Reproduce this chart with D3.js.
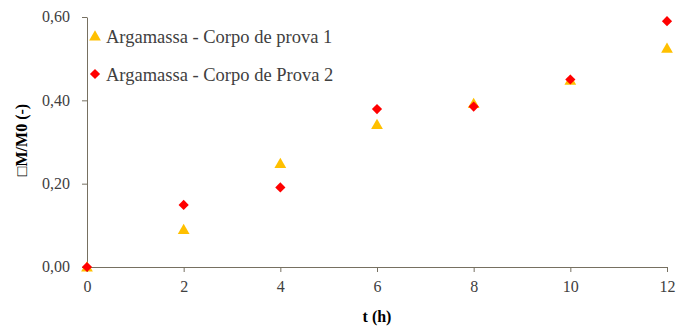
<!DOCTYPE html>
<html>
<head>
<meta charset="utf-8">
<script src="https://cdn.jsdelivr.net/npm/d3@7"></script>
<style>
  body { margin: 0; background: #fff; }
  svg { display: block; }
  text { font-family: "Liberation Serif", "Times New Roman", serif; }
</style>
</head>
<body>
<svg id="chart"></svg>
<script>
// data
const times = [0, 2, 4, 6, 8, 10, 12];
const cp1 = [0.0, 0.09, 0.248, 0.342, 0.392, 0.448, 0.525];
const cp2 = [0.0, 0.149, 0.191, 0.379, 0.385, 0.45, 0.59];
const seriesNames = ["Argamassa - Corpo de prova 1", "Argamassa - Corpo de Prova 2"];
const xTicks = [0, 2, 4, 6, 8, 10, 12];
const yTicks = [0, 0.2, 0.4, 0.6];

const config = {
  width: 684, height: 326,
  margin: { top: 17, right: 17, bottom: 59, left: 87 }
};
const innerW = config.width - config.margin.left - config.margin.right;
const innerH = config.height - config.margin.top - config.margin.bottom;
const axisColor = "#767061";
const labelColor = "#404040";

const svg = d3.select("#chart")
  .attr("width", config.width)
  .attr("height", config.height);

const chart = svg.append("g")
  .attr("transform", `translate(${config.margin.left},${config.margin.top})`);

const xScale = d3.scaleLinear().domain([0, 12]).range([0, innerW]);
const yScale = d3.scaleLinear().domain([0, 0.6]).range([innerH, 0]);

const fmt = d => d3.format(".2f")(d).replace(".", ",");

// x axis
const xAxisG = chart.append("g")
  .attr("transform", `translate(0,${innerH})`)
  .call(d3.axisBottom(xScale).tickValues(xTicks).tickSize(5).tickSizeOuter(0).tickPadding(9));

// y axis
const yAxisG = chart.append("g")
  .call(d3.axisLeft(yScale).tickValues(yTicks).tickFormat(fmt).tickSize(5).tickSizeOuter(0).tickPadding(12));

[xAxisG, yAxisG].forEach(g => {
  g.select(".domain").attr("stroke", axisColor);
  g.selectAll(".tick line").attr("stroke", axisColor);
  g.selectAll(".tick text")
    .attr("fill", labelColor)
    .style("font-family", "Liberation Serif")
    .style("font-size", "16px");
});
yAxisG.selectAll(".tick text").attr("dy", "0.3em");

// axis titles
svg.append("text")
  .attr("x", config.margin.left + innerW / 2)
  .attr("y", 322)
  .attr("text-anchor", "middle")
  .style("font-size", "16px")
  .style("font-weight", "bold")
  .text("t (h)");

svg.append("text")
  .attr("transform", "rotate(-90)")
  .attr("x", -140)
  .attr("y", 27)
  .attr("text-anchor", "middle")
  .style("font-size", "16px")
  .style("font-weight", "bold")
  .text("\u25A1M/M0 (-)");

const triangle = d3.symbol().type(d3.symbolTriangle).size(60);
const diamond = d3.symbol().type(d3.symbolSquare).size(52);

// series 1 - triangles
chart.selectAll(".cp1")
  .data(times.map((t, i) => ({ t, v: cp1[i] })))
  .join("path")
  .attr("class", "cp1")
  .attr("d", triangle)
  .attr("fill", "#FFC000")
  .attr("transform", d => `translate(${xScale(d.t)},${yScale(d.v) + 1})`);

// series 2 - diamonds
chart.selectAll(".cp2")
  .data(times.map((t, i) => ({ t, v: cp2[i] })))
  .join("path")
  .attr("class", "cp2")
  .attr("d", diamond)
  .attr("fill", "#FF0000")
  .attr("transform", d => `translate(${xScale(d.t)},${yScale(d.v)}) rotate(45)`);

// legend
const legend = svg.append("g").attr("transform", "translate(95,36)");
legend.append("path")
  .attr("d", triangle)
  .attr("fill", "#FFC000")
  .attr("transform", "translate(0,1)");
legend.append("path")
  .attr("d", diamond)
  .attr("fill", "#FF0000")
  .attr("transform", "translate(0,38) rotate(45)");
legend.selectAll(".leg-text")
  .data(seriesNames)
  .join("text")
  .attr("class", "leg-text")
  .attr("x", 11)
  .attr("y", (d, i) => i * 38 + 7)
  .attr("fill", labelColor)
  .style("font-size", "18.5px")
  .text(d => d);
</script>
</body>
</html>
